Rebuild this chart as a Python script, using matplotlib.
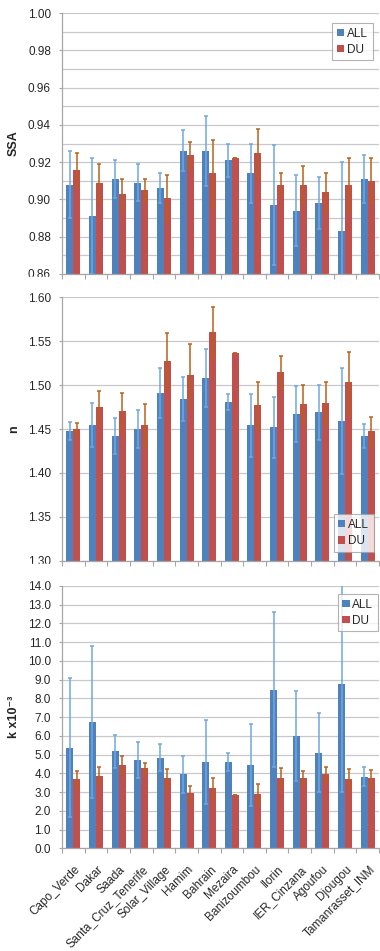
import matplotlib
matplotlib.use('Agg')
import matplotlib.pyplot as plt
import numpy as np
from matplotlib.transforms import ScaledTranslation
from matplotlib.patches import Rectangle
from matplotlib.ticker import MultipleLocator, FormatStrFormatter

plt.rcParams['font.family'] = ['Liberation Sans', 'DejaVu Sans']

sites = ['Capo_Verde', 'Dakar', 'Saada', 'Santa_Cruz_Tenerife', 'Solar_Village',
         'Hamim', 'Bahrain', 'Mezaira', 'Banizoumbou', 'Ilorin', 'IER_Cinzana',
         'Agoufou', 'Djougou', 'Tamanrasset_INM']

ssa_all = [0.908, 0.891, 0.911, 0.909, 0.906, 0.926, 0.926, 0.921, 0.914, 0.897, 0.894, 0.898, 0.883, 0.911]
ssa_all_err = [0.018, 0.031, 0.010, 0.010, 0.008, 0.011, 0.019, 0.009, 0.016, 0.032, 0.019, 0.014, 0.037, 0.013]
ssa_du = [0.916, 0.909, 0.903, 0.905, 0.901, 0.924, 0.914, 0.922, 0.925, 0.908, 0.908, 0.904, 0.908, 0.910]
ssa_du_err = [0.009, 0.010, 0.008, 0.006, 0.012, 0.007, 0.018, 0.0, 0.013, 0.006, 0.010, 0.010, 0.014, 0.012]

n_all = [1.448, 1.455, 1.442, 1.450, 1.491, 1.484, 1.508, 1.481, 1.454, 1.452, 1.467, 1.469, 1.459, 1.442]
n_all_err = [0.010, 0.025, 0.021, 0.022, 0.028, 0.025, 0.033, 0.009, 0.036, 0.035, 0.032, 0.031, 0.060, 0.014]
n_du = [1.450, 1.475, 1.471, 1.454, 1.527, 1.511, 1.560, 1.536, 1.477, 1.515, 1.479, 1.480, 1.503, 1.448]
n_du_err = [0.007, 0.018, 0.020, 0.024, 0.032, 0.036, 0.029, 0.0, 0.027, 0.018, 0.021, 0.024, 0.035, 0.016]

k_all = [5.37, 6.76, 5.17, 4.70, 4.84, 3.95, 4.62, 4.60, 4.46, 8.47, 5.98, 5.11, 8.78, 3.83]
k_all_err = [3.70, 4.06, 0.90, 0.96, 0.71, 1.00, 2.24, 0.48, 2.18, 4.15, 2.40, 2.09, 5.80, 0.51]
k_du = [3.68, 3.87, 4.43, 4.29, 3.73, 2.93, 3.21, 2.87, 2.91, 3.74, 3.73, 3.96, 3.70, 3.73]
k_du_err = [0.44, 0.46, 0.48, 0.27, 0.50, 0.41, 0.53, 0.0, 0.53, 0.52, 0.37, 0.39, 0.55, 0.45]

BLUE = '#4F81BD'
RED = '#C0504D'
BLUE_ERR = '#6FA8E0'
RED_ERR = '#B8621B'
GRID = '#C8C8C8'
TXT = '#262626'

W, H = 380, 951
fig = plt.figure(figsize=(W / 100, H / 100), dpi=100)

def axes_px(top, bottom, left=62, right=379):
    return fig.add_axes([left / W, 1 - bottom / H, (right - left) / W, (bottom - top) / H])

ax1 = axes_px(13, 274)
ax2 = axes_px(297.3, 560.7)
ax3 = axes_px(586, 848.3)

x = np.arange(len(sites))
bw = 0.31

def draw(ax, a, ae, d, de, ylim, major, minor, fmt, ylabel, leg_loc, leg_anchor):
    ax.bar(x - bw / 2, a, bw, color=BLUE, label='ALL', zorder=2)
    ax.bar(x + bw / 2, d, bw, color=RED, label='DU', zorder=2)
    ax.errorbar(x - bw / 2, a, yerr=ae, fmt='none', ecolor=BLUE_ERR, elinewidth=1.1,
                capsize=1.6, capthick=1.1, zorder=3)
    ax.errorbar(x + bw / 2, d, yerr=de, fmt='none', ecolor=RED_ERR, elinewidth=1.1,
                capsize=1.6, capthick=1.1, zorder=3)
    ax.set_xlim(-0.5, len(sites) - 0.5)
    ax.set_ylim(*ylim)
    ax.yaxis.set_major_locator(MultipleLocator(major))
    ax.yaxis.set_major_formatter(FormatStrFormatter(fmt))
    if minor:
        ax.yaxis.set_minor_locator(MultipleLocator(minor))
        ax.tick_params(axis='y', which='minor', length=0)
        ax.grid(True, axis='y', which='minor', color=GRID, lw=0.9, zorder=0)
    ax.grid(True, axis='y', which='major', color=GRID, lw=0.9, zorder=0)
    ax.set_axisbelow(True)
    for s in ['top', 'right']:
        ax.spines[s].set_visible(False)
    for s in ['left', 'bottom']:
        ax.spines[s].set_color('#A6A6A6')
        ax.spines[s].set_linewidth(0.9)
    ax.set_xticks(np.arange(len(sites) + 1) - 0.5)
    ax.set_xticklabels([])
    ax.tick_params(axis='x', which='major', length=3.5, color='#A6A6A6', width=0.8)
    ax.tick_params(axis='y', which='major', length=2.5, color='#A6A6A6', width=0.8,
                   labelsize=8.5, labelcolor=TXT, pad=5.5)
    ax.set_ylabel(ylabel, fontsize=9, fontweight='bold', color=TXT)
    ax.yaxis.set_label_coords(-0.132, 0.5)
    leg = ax.legend(loc=leg_loc, bbox_to_anchor=leg_anchor, fontsize=8.5, frameon=True,
                    fancybox=False, edgecolor='#A0A0A0', handlelength=0.6,
                    handleheight=0.6, handletextpad=0.25, borderpad=0.4,
                    labelspacing=0.35, borderaxespad=0)
    leg.get_frame().set_linewidth(0.8)
    for t in leg.get_texts():
        t.set_color(TXT)

draw(ax1, ssa_all, ssa_all_err, ssa_du, ssa_du_err, (0.86, 1.00), 0.02, 0.01, '%.2f',
     'SSA', 'upper right', (0.98, 0.962))
draw(ax2, n_all, n_all_err, n_du, n_du_err, (1.30, 1.60), 0.05, None, '%.2f',
     'n', 'lower right', (0.984, 0.034))
draw(ax3, k_all, k_all_err, k_du, k_du_err, (0.0, 14.0), 1.0, None, '%.1f',
     'k x10\u207b\u00b3', 'upper right', (0.997, 0.97))

# category labels on the bottom panel
ax3.set_xticks(x, minor=True)
ax3.set_xticklabels(sites, minor=True, rotation=45, ha='right', va='center',
                    rotation_mode='anchor', fontsize=8.5, color=TXT)
ax3.tick_params(axis='x', which='minor', length=0, pad=14)
off = ScaledTranslation(5 / 100, 0, fig.dpi_scale_trans)
for lab in ax3.get_xticklabels(minor=True):
    lab.set_transform(lab.get_transform() + off)

# the source image is cropped just under the top two panels
for y0, y1 in [(276.5, 292), (563.5, 580)]:
    fig.patches.append(Rectangle((0, 1 - y1 / H), 58 / W, (y1 - y0) / H,
                                 transform=fig.transFigure, color='white', zorder=10))

fig.savefig('out.png', dpi=100, facecolor='white')
